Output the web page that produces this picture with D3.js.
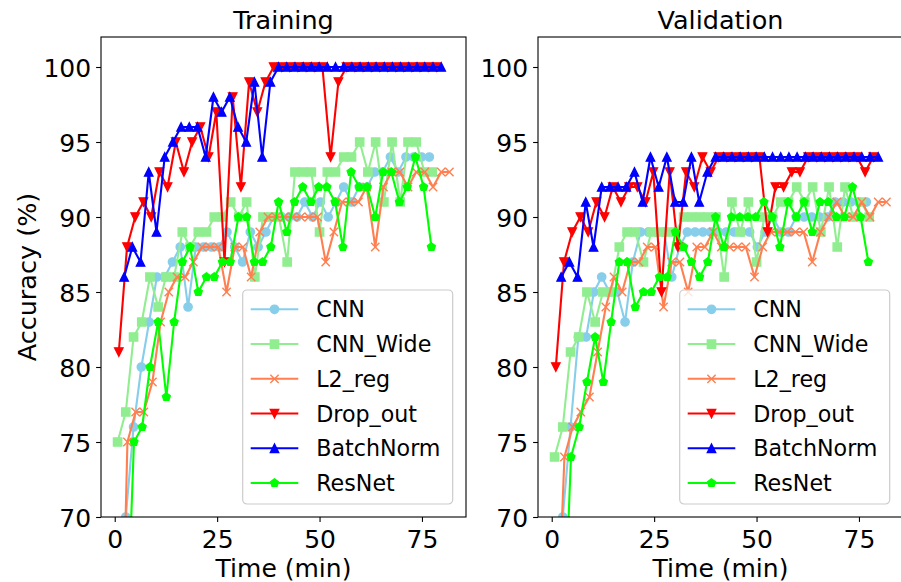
<!DOCTYPE html>
<html>
<head>
<meta charset="utf-8">
<script src="https://cdn.jsdelivr.net/npm/d3@7"></script>
<style>
  body { margin: 0; background: #fff; }
  text { font-family: "DejaVu Sans", sans-serif; fill: #000; }
</style>
</head>
<body>
<svg id="chart" width="901" height="582"></svg>
<script>
// Model names, in legend order
const models = ['CNN', 'CNN_Wide', 'L2_reg', 'Drop_out', 'BatchNorm', 'ResNet'];

// Time (min) of every evaluation, per model
const timeCNN = [2.7,4.6,6.5,8.4,10.3,12.2,14.1,16.0,17.9,19.8,21.7,23.6,25.5,27.4,29.3,31.2,33.1,35.0,36.9,38.8,40.7,42.6,44.5,46.4,48.3,50.2,52.1,54.0,55.9,57.8,59.7,61.6,63.5,65.4,67.3,69.2,71.1,73.0,74.9,76.8];
const timeWide = [0.7,2.7,4.6,6.6,8.6,10.6,12.5,14.5,16.5,18.4,20.4,22.4,24.3,26.3,28.3,30.3,32.2,34.2,36.2,38.1,40.1,42.1,44.0,46.0,48.0,50.0,51.9,53.9,55.9,57.8,59.8,61.8,63.7,65.7,67.7,69.7,71.6,73.6,75.6,77.5];
const timeL2 = [1.1,3.1,5.1,7.1,9.2,11.2,13.2,15.2,17.2,19.2,21.3,23.3,25.3,27.3,29.3,31.3,33.3,35.4,37.4,39.4,41.4,43.4,45.4,47.4,49.5,51.5,53.5,55.5,57.5,59.5,61.5,63.6,65.6,67.6,69.6,71.6,73.6,75.7,77.7,79.7,81.7];
const timeDrop = [1.0,3.0,5.0,7.0,8.9,10.9,12.9,14.9,16.9,18.9,20.9,22.9,24.8,26.8,28.8,30.8,32.8,34.8,36.8,38.8,40.7,42.7,44.7,46.7,48.7,50.7,52.7,54.6,56.6,58.6,60.6,62.6,64.6,66.6,68.6,70.5,72.5,74.5,76.5,78.5];
const timeBN = [2.3,4.3,6.3,8.3,10.2,12.2,14.2,16.2,18.2,20.2,22.2,24.1,26.1,28.1,30.1,32.1,34.1,36.0,38.0,40.0,42.0,44.0,46.0,48.0,49.9,51.9,53.9,55.9,57.9,59.9,61.9,63.8,65.8,67.8,69.8,71.8,73.8,75.7,77.7,79.7];
const timeRes = [2.7,4.7,6.7,8.6,10.6,12.6,14.5,16.5,18.4,20.4,22.4,24.3,26.3,28.2,30.2,32.2,34.1,36.1,38.1,40.0,42.0,43.9,45.9,47.9,49.8,51.8,53.8,55.7,57.7,59.7,61.6,63.6,65.5,67.5,69.5,71.4,73.4,75.4,77.3];

// Training accuracy (%)
const trainCNN = [70,76,80,83,86,86,87,88,84,88,88,88,88,89,88,87,89,88,89,90,90,90,90,91,90,91,90,91,92,91,92,92,93,93,94,93,94,94,94,94];
const trainWide = [75,77,82,83,86,84,86,86,89,88,89,89,90,90,91,90,91,86,90,90,90,87,93,93,93,89,93,93,94,94,95,93,95,91,95,91,95,95,93,93];
const trainL2 = [52,75,77,77,79,83,85,86,86,87,88,88,88,85,88,88,86,89,90,90,90,90,90,90,90,87,89,91,91,91,92,88,92,93,93,92,93,93,92,93,93];
const trainDrop = [81,88,90,91,90,93,92,95,93,95,96,94,97,87,98,92,99,97,99,100,100,100,100,100,100,100,94,99,100,100,100,100,100,100,100,100,100,100,100,100];
const trainBN = [86,88,87,93,89,94,95,96,96,96,94,98,97,98,96,95,99,94,99,100,100,100,100,100,100,100,100,100,100,100,100,100,100,100,100,100,100,100,100,100];
const trainRes = [60,75,76,80,83,78,83,87,88,85,86,86,87,87,90,90,87,87,88,91,89,91,92,91,92,92,91,88,93,92,92,90,93,93,91,92,94,92,88];

// Validation accuracy (%)
const valCNN = [70,76,82,82,85,86,85,85,83,87,89,89,89,89,86,88,89,89,89,89,89,89,89,89,89,88,89,90,89,89,90,90,90,90,90,91,91,91,91,91];
const valWide = [74,76,81,82,85,83,85,85,88,89,89,87,89,89,89,89,90,90,90,90,90,86,91,89,91,87,90,90,91,91,92,91,92,89,92,88,92,90,91,90];
const valL2 = [60,74,76,77,78,81,84,86,85,87,87,88,88,84,87,87,85,88,88,89,88,88,88,88,86,88,89,89,89,89,89,87,89,90,91,90,90,91,90,91,91];
const valDrop = [80,87,89,90,89,91,90,92,91,92,92,91,93,85,93,88,93,92,94,93,94,94,94,94,94,94,89,92,92,93,93,94,94,94,94,94,94,94,93,94];
const valBN = [86,87,86,91,88,92,92,92,92,93,91,94,92,94,91,91,94,91,93,94,94,94,94,94,94,94,94,94,94,94,94,94,94,94,94,94,94,94,94,94];
const valRes = [60,74,76,79,82,79,83,87,87,84,85,85,86,86,89,88,87,86,87,90,88,90,90,90,90,91,90,88,91,90,91,89,91,91,90,90,92,90,87];

const xTicks = [0, 25, 50, 75];
const yTicks = [70, 75, 80, 85, 90, 95, 100];

const times = [timeCNN, timeWide, timeL2, timeDrop, timeBN, timeRes];
const panels = [
	{ title: 'Training', values: [trainCNN, trainWide, trainL2, trainDrop, trainBN, trainRes] },
	{ title: 'Validation', values: [valCNN, valWide, valL2, valDrop, valBN, valRes] }
];

const colors = ['#87ceeb', '#90ee90', '#ff7f50', '#ff0000', '#0000ff', '#00ff00'];
const markers = ['circle', 'square', 'x', 'tridown', 'triup', 'pentagon'];

// Layout
const svg = d3.select('#chart');
const plotTop = 37, plotBottom = 517, panelWidth = 365;
const panelLeft = [101, 538];
const markerSize = 8.3, lineWidth = 2.1, edgeWidth = 1.4;

// Marker shapes, centred on 0,0
const markerPath = function(type, s) {
	const h = s / 2;
	const p = d3.path();
	if (type === 'circle') {
		p.moveTo(h, 0);
		p.arc(0, 0, h, 0, 2 * Math.PI);
	} else if (type === 'square') {
		p.rect(-h, -h, s, s);
	} else if (type === 'triup') {
		p.moveTo(0, -h); p.lineTo(-h, h); p.lineTo(h, h);
	} else if (type === 'tridown') {
		p.moveTo(0, h); p.lineTo(-h, -h); p.lineTo(h, -h);
	} else if (type === 'pentagon') {
		for (let k = 0; k < 5; k++) {
			const a = Math.PI / 2 + k * 2 * Math.PI / 5;
			const px = h * Math.cos(a), py = -h * Math.sin(a);
			if (k === 0) p.moveTo(px, py); else p.lineTo(px, py);
		}
	} else if (type === 'x') {
		p.moveTo(-h, -h); p.lineTo(h, h);
		p.moveTo(-h, h); p.lineTo(h, -h);
		return p.toString();
	}
	p.closePath();
	return p.toString();
};

const drawMarkers = function(sel, i) {
	const isX = markers[i] === 'x';
	sel.attr('d', markerPath(markers[i], markerSize))
		.attr('fill', isX ? 'none' : colors[i])
		.attr('stroke', colors[i])
		.attr('stroke-width', edgeWidth)
		.attr('stroke-linejoin', 'miter');
};

const allTimes = times.flat();
const tMin = d3.min(allTimes), tMax = d3.max(allTimes);
const pad = (tMax - tMin) * 0.05;

panels.forEach((panel, pi) => {
	const left = panelLeft[pi];
	const x = d3.scaleLinear().domain([tMin - pad, tMax + pad]).range([left, left + panelWidth]);
	const y = d3.scaleLinear().domain([70, 102]).range([plotBottom, plotTop]);

	const g = svg.append('g');

	g.append('clipPath').attr('id', 'clip' + pi)
		.append('rect')
		.attr('x', left).attr('y', plotTop)
		.attr('width', panelWidth).attr('height', plotBottom - plotTop);

	const plot = g.append('g').attr('clip-path', 'url(#clip' + pi + ')');

	const line = d3.line().x(d => x(d[0])).y(d => y(d[1]));

	models.forEach((name, i) => {
		const pts = times[i].map((t, k) => [t, panel.values[i][k]]);
		const s = plot.append('g');
		s.append('path')
			.attr('d', line(pts))
			.attr('fill', 'none')
			.attr('stroke', colors[i])
			.attr('stroke-width', lineWidth)
			.attr('stroke-linejoin', 'round');
		s.selectAll('path.m')
			.data(pts)
			.join('path')
			.attr('class', 'm')
			.attr('transform', d => 'translate(' + x(d[0]) + ',' + y(d[1]) + ')')
			.call(drawMarkers, i);
	});

	// Axes
	const xAxis = g.append('g').attr('transform', 'translate(0,' + plotBottom + ')')
		.call(d3.axisBottom(x).tickValues(xTicks).tickSize(4.9).tickPadding(6).tickFormat(d3.format('d')));
	const yAxis = g.append('g').attr('transform', 'translate(' + left + ',0)')
		.call(d3.axisLeft(y).tickValues(yTicks).tickSize(4.9).tickPadding(5).tickFormat(d3.format('d')));
	[xAxis, yAxis].forEach(a => {
		a.select('.domain').remove();
		a.selectAll('.tick line').attr('stroke', '#000').attr('stroke-width', 1.1);
		a.selectAll('.tick text').style('font-size', '25px').style('font-family', '"DejaVu Sans", sans-serif').attr('fill', '#000');
	});
	xAxis.selectAll('.tick text').attr('dy', null).attr('y', 31);
	yAxis.selectAll('.tick text').attr('dy', '0.36em');

	g.append('rect')
		.attr('x', left).attr('y', plotTop)
		.attr('width', panelWidth).attr('height', plotBottom - plotTop)
		.attr('fill', 'none').attr('stroke', '#000').attr('stroke-width', 1.1);

	g.append('text')
		.attr('x', left + panelWidth / 2).attr('y', 29)
		.attr('text-anchor', 'middle')
		.style('font-size', '25.5px')
		.text(panel.title);

	g.append('text')
		.attr('x', left + panelWidth / 2).attr('y', 577)
		.attr('text-anchor', 'middle')
		.style('font-size', '25px')
		.text('Time (min)');

	// Legend
	const lx = left + 141.7, ly = 290, lw = 210, lh = 214;
	const legend = g.append('g');
	legend.append('rect')
		.attr('x', lx).attr('y', ly).attr('width', lw).attr('height', lh)
		.attr('rx', 4.4)
		.attr('fill', '#fff').attr('fill-opacity', 0.8)
		.attr('stroke', '#cccccc').attr('stroke-width', 1.2);
	models.forEach((name, i) => {
		const ry = 309.3 + i * 34.75;
		legend.append('line')
			.attr('x1', lx + 8).attr('x2', lx + 55.6)
			.attr('y1', ry).attr('y2', ry)
			.attr('stroke', colors[i]).attr('stroke-width', lineWidth);
		legend.append('path')
			.attr('transform', 'translate(' + (lx + 31.8) + ',' + ry + ')')
			.call(drawMarkers, i);
		legend.append('text')
			.attr('x', lx + 73.5).attr('y', ry)
			.attr('dy', '0.36em')
			.style('font-size', '22.2px')
			.text(name);
	});
});

svg.append('text')
	.attr('transform', 'translate(36,277) rotate(-90)')
	.attr('text-anchor', 'middle')
	.style('font-size', '25.5px')
	.text('Accuracy (%)');
</script>
</body>
</html>
